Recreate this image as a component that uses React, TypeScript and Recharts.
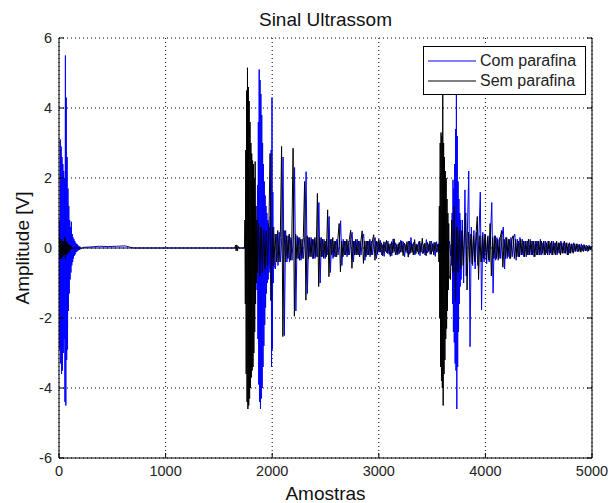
import { LineChart, Line, XAxis, YAxis, CartesianGrid, Legend } from 'recharts';

const FONT = '"Liberation Sans", Arial, Helvetica, sans-serif';

const xTicks = [0, 1000, 2000, 3000, 4000, 5000];
const yTicks = [-6, -4, -2, 0, 2, 4, 6];

// Com parafina (blue), sample step noted per block
const comBurst1 = [
  0, 0.8, -2.9, 3.1, -3.3, 2.9, -3.6, 2.6, -3.5, 2.4, -3.0, 2.2, -2.6, 2.0, -4.4, 5.5, -4.5, 4.3, -3.2, 2.6,
  -2.9, 1.7, -1.8, 1.2, -1.3, 0.8, -0.9, 0.6, -0.7, 0.75, -0.5, 0.4, -0.4, 0.3, -0.3, 0.25, -0.22, 0.2, -0.18, 0.15,
  -0.12, 0.12, -0.1, 0.1, -0.08, 0.07, -0.06, 0.05, -0.05, 0.04, -0.03,
]; // from 0, every 4 samples
const comQuiet: [number, number][] = [
  [230, 0.02], [300, 0.03], [380, 0.05], [460, 0.04], [540, 0.05], [620, 0.06], [660, 0.03], [700, 0], [1846, 0],
];
const comBurst2 = [
  0, 0.6, -1.2, 1.8, -2.6, 3.6, -3.9, 5.1, -4.4, 4.8, -4.6, 4.4, -4.3, 3.8, -4.0, 3.0, -3.4, 2.4, -2.8, 1.9,
  -2.2, 1.5, -1.7, 1.2, -1.3, 1.0, -1.0, 0.8, -0.9, 0.7, -0.7, 0.6, -0.6, 0.9, -1.5, 2.8, -3.4, 4.3, -2.9, 1.6,
  -1.0, 0.6, -0.5,
]; // from 1850, every 4 samples
const comEchoes = [
  -0.6, 0.4, -0.5, 0.45, -0.4, 0.3, 2.6, -2.5, 0.5,
  -0.4, 0.35, -0.4, 0.3, -0.35, 0.4, 2.3, -1.8, 0.35, -0.3,
  0.3, -0.35, 0.25, -0.3, 0.35, 2.18, -1.3, 0.3, -0.25, 0.3,
  -0.3, 0.25, -0.3, 0.3, -0.25, 1.3, -1.0, 0.3, -0.25, 0.25,
  -0.3, 0.25, -0.2, 0.9, -0.7, 0.25, -0.3, 0.2, -0.25, 0.25,
  -0.2, 0.2, 0.78, -0.5, 0.25, -0.2, 0.2, -0.25, 0.2, -0.2,
  0.25, 0.45, -0.4, 0.2, -0.2, 0.25, -0.2, 0.2, -0.2, 0.25,
  0.4, -0.35, 0.2, -0.2, 0.2, -0.25, 0.2, -0.2, 0.2, 0.3,
  -0.3, 0.18, -0.12, 0.22, -0.2, 0.1, -0.24, 0.16, -0.14, 0.2,
  -0.18, 0.12, -0.22, 0.26, -0.1, 0.15, -0.2, 0.12, -0.16, 0.22,
  -0.12, 0.18, -0.25, 0.1, -0.15, 0.2, -0.18, 0.3, -0.12, 0.16,
  -0.2, 0.12, -0.1, 0.18, -0.22, 0.14, -0.16, 0.1, -0.2, 0.24,
  -0.14, 0.12, -0.18, 0.2, -0.1, 0.16, -0.24, 0.18, -0.12, 0.14,
  -0.2, 0.1, -0.16, 0.22, -0.18, 0.12, -0.14, 0.2, -0.22,
]; // from 2030, every 12 samples
const comBurst3 = [
  0.1, -0.5, 1.0, -1.6, 1.95, -2.4, 1.7, -2.7, 2.4, -3.3, 3.4, -3.5, 4.6, -4.6, 3.2, -3.4, 1.9, -2.4, 1.4, -1.6,
  1.0, -1.1, 0.8,
]; // from 3680, every 4 samples
const comTail = [
  -0.9, 0.8, -1.0, 1.66, -0.8, 0.6, 2.2, -2.82, 0.6, -0.5,
  0.5, -0.6, 0.45, -0.5, 0.4, 1.6, -1.77, 0.45, -0.4, 0.4,
  -0.45, 0.35, -0.4, 0.4, 1.3, -1.29, 0.35, -0.35, 0.3, -0.35,
  0.3, -0.3, 0.35, 0.6, -0.6, 0.3, -0.3, 0.25, -0.3, 0.3,
  -0.25, 0.3, 0.4, -0.35, 0.25, -0.25, 0.3, -0.2, 0.25, -0.25,
  0.2, -0.25, 0.2, -0.2, 0.25, -0.2, 0.2, -0.25, 0.2, -0.2,
  0.2, -0.2, 0.25, -0.2, 0.15, -0.2, 0.2, -0.15, 0.2, -0.2,
  0.15, -0.2, 0.2, -0.15, 0.15, -0.2, 0.15, -0.15, 0.2, -0.15,
  0.15, -0.15, 0.15, -0.2, 0.12, -0.15, 0.12, -0.12, 0.15, -0.1,
  0.12, -0.1, 0.1, -0.1, 0.12, -0.08, 0.1, -0.08, 0.08, -0.1, 0.08, -0.06, 0.05,
]; // from 3772, every 12 samples

// Sem parafina (black)
const semQuiet: [number, number][] = [
  [0, 0], [6, 0.3], [12, -0.3], [18, 0.25], [24, -0.3], [30, 0.2], [36, -0.25], [42, 0.2], [48, -0.2], [54, 0.3],
  [60, -0.3], [66, 0.2], [72, -0.2], [78, 0.15], [84, -0.15], [90, 0.1], [96, -0.1], [102, 0.08], [108, -0.06],
  [114, 0.05], [120, -0.03], [130, 0], [1650, 0], [1656, 0.08], [1662, -0.08], [1668, 0.09], [1674, -0.08],
  [1680, 0.05], [1686, 0], [1736, 0],
];
const semBurst2 = [
  0, 0.8, -1.6, 2.8, -3.6, 4.5, -4.4, 5.15, -4.6, 4.6, -4.5, 4.2, -4.3, 3.6, -4.0, 3.0, -3.7, 2.7, -3.5, 2.5,
  -3.4, 2.4, -3.0, 2.0, -2.4, 2.47, -1.6, 1.2, -1.0, 0.8, -0.7,
]; // from 1740, every 4 samples
const semEchoes = [
  0.7, -0.8, 0.6, -0.7, 0.5, -0.6, 0.5, -0.5, 0.4, 2.7,
  -1.5, 0.6, -0.5, 0.4, -0.4, 0.5, -0.4, 0.3, 2.9, -2.53,
  0.5, -0.4, 0.35, -0.3, 0.4, -0.35, 0.3, 2.85, -1.95, 0.4,
  -0.3, 0.3, -0.35, 0.25, -0.3, 0.3, 1.9, -1.49, 0.35, -0.3,
  0.3, -0.25, 0.25, -0.3, 0.3, -0.25, 1.56, -1.1, 0.3, -0.25,
  0.25, -0.3, 0.2, -0.25, 1.09, -0.82, 0.25, -0.2, 0.3, -0.25,
  0.2, -0.25, 0.25, 0.7, -0.68, 0.2, -0.25, 0.2, -0.2, 0.25,
  -0.2, 0.25, 0.51, -0.58, 0.2, -0.2, 0.25, -0.2, 0.2, -0.25,
  0.2, 0.49, -0.44, 0.2, -0.25, 0.2, -0.2, 0.25, -0.2, 0.2,
  0.38, -0.35, 0.2, -0.18, 0.25, -0.12, 0.15, -0.22, 0.18, -0.1,
  0.22, -0.16, 0.12, -0.24, 0.18, -0.14, 0.26, -0.2, 0.1, -0.18,
  0.16, -0.12, 0.2, -0.22, 0.14, -0.1, 0.18, -0.26, 0.2, -0.14,
  0.12, -0.2, 0.24, -0.16, 0.1, -0.18, 0.2, -0.12, 0.28, -0.15,
  0.14, -0.22, 0.16, -0.1, 0.2, -0.18, 0.12, -0.2, 0.16, -0.12, 0.1,
]; // from 1872, every 12 samples
const semBurst3 = [
  0.1, -0.4, 1.2, -2.0, 3.0, -3.4, 3.3, -3.8, 3.2, -4.0, 4.6, -4.5, 3.0, -3.6, 2.6, -3.2, 2.2, -2.6, 2.0, -2.3,
  1.4, -1.8, 1.0, -1.2, 0.7, -0.8,
]; // from 3560, every 4 samples
const semTail = [
  -0.9, 0.8, -0.7, 1.2, -1.5, 0.6, -0.7, 0.5, -0.6, 0.5,
  -0.5, 0.4, 1.0, -1.2, 0.45, -0.4, 0.4, -0.45, 0.35, -0.4,
  0.4, 0.9, -0.9, 0.35, -0.4, 0.35, -0.3, 0.4, -0.35, 0.3,
  -0.35, 0.7, -0.8, 0.3, -0.3, 0.35, -0.3, 0.25, -0.3, 0.3,
  0.5, -0.55, 0.25, -0.3, 0.3, -0.25, 0.25, -0.3, 0.25, 0.35,
  -0.3, 0.25, -0.25, 0.2, -0.25, 0.25, -0.2, 0.2, -0.25, 0.2,
  -0.2, 0.25, -0.2, 0.2, -0.2, 0.2, -0.25, 0.2, -0.2, 0.2,
  -0.2, 0.2, -0.15, 0.2, -0.2, 0.15, -0.2, 0.2, -0.15, 0.2,
  -0.2, 0.15, -0.2, 0.2, -0.15, 0.15, -0.2, 0.15, -0.15, 0.2,
  -0.15, 0.15, -0.2, 0.15, -0.15, 0.12, -0.15, 0.12, -0.1, 0.12,
  -0.1, 0.1, -0.12, 0.08, -0.1, 0.08, -0.08, 0.06, -0.08, 0.06, -0.05,
]; // from 3672, every 12 samples

const block = (start: number, step: number, values: number[]) =>
  values.map((v, i) => ({ x: start + i * step, v }));
const pairs = (list: [number, number][]) => list.map(([x, v]) => ({ x, v }));

const comData = [
  ...block(0, 4, comBurst1),
  ...pairs(comQuiet),
  ...block(1850, 4, comBurst2),
  ...block(2030, 12, comEchoes),
  ...block(3680, 4, comBurst3),
  ...block(3772, 12, comTail),
];

const semData = [
  ...pairs(semQuiet),
  ...block(1740, 4, semBurst2),
  ...block(1872, 12, semEchoes),
  ...block(3560, 4, semBurst3),
  ...block(3672, 12, semTail),
];

const labelStyle = { fontFamily: FONT, fill: '#222' };

function BottomTick({ x, y, payload }: any) {
  return (
    <g>
      <line x1={x} x2={x} y1={y} y2={y - 5} stroke="#000" />
      <text x={x} y={y + 18} textAnchor="middle" fontSize={14.5} {...labelStyle}>
        {payload.value}
      </text>
    </g>
  );
}

function TopTick({ x, y }: any) {
  return <line x1={x} x2={x} y1={y} y2={y + 5} stroke="#000" />;
}

function LeftTick({ x, y, payload }: any) {
  return (
    <g>
      <line x1={x} x2={x + 5} y1={y} y2={y} stroke="#000" />
      <text x={x - 7} y={y + 5} textAnchor="end" fontSize={14.5} {...labelStyle}>
        {payload.value}
      </text>
    </g>
  );
}

function RightTick({ x, y }: any) {
  return <line x1={x} x2={x - 5} y1={y} y2={y} stroke="#000" />;
}

function LegendBox() {
  const rows = [
    { name: 'Com parafina', color: '#0000ff' },
    { name: 'Sem parafina', color: '#000000' },
  ];
  return (
    <div
      style={{
        width: 163,
        height: 49,
        boxSizing: 'border-box',
        border: '1px solid #000',
        background: '#fff',
        paddingTop: 4,
        fontFamily: FONT,
        fontSize: 16,
        color: '#222',
      }}
    >
      {rows.map((r) => (
        <div key={r.name} style={{ display: 'flex', alignItems: 'center', height: 20 }}>
          <svg width={56} height={20}>
            <line x1={4} x2={52} y1={10} y2={10} stroke={r.color} strokeWidth={1} />
          </svg>
          <span style={{ lineHeight: '20px' }}>{r.name}</span>
        </div>
      ))}
    </div>
  );
}

export default function App() {
  return (
    <div style={{ position: 'absolute', left: 0, top: 0, width: 610, height: 503, background: '#fff' }}>
      <div
        style={{
          position: 'absolute',
          left: 59,
          top: 10,
          width: 533,
          textAlign: 'center',
          fontFamily: FONT,
          fontSize: 19,
          lineHeight: '19px',
          color: '#111',
          zIndex: 2,
        }}
      >
        Sinal Ultrassom
      </div>
      <LineChart width={610} height={503} margin={{ top: 38, right: 0, bottom: 0, left: 0 }}>
        <CartesianGrid stroke="#000" strokeDasharray="1 3" />
        <XAxis
          dataKey="x"
          type="number"
          domain={[0, 5000]}
          ticks={xTicks}
          interval={0}
          allowDataOverflow
          height={45}
          tickSize={0}
          tickMargin={0}
          tickLine={false}
          tick={<BottomTick />}
          axisLine={{ stroke: '#000' }}
          label={{ value: 'Amostras', position: 'insideBottom', offset: 3, fontSize: 19, fill: '#111', fontFamily: FONT }}
        />
        <XAxis
          xAxisId="top"
          orientation="top"
          type="number"
          domain={[0, 5000]}
          ticks={xTicks}
          interval={0}
          allowDataOverflow
          height={0}
          tickSize={0}
          tickMargin={0}
          tickLine={false}
          tick={<TopTick />}
          axisLine={{ stroke: '#000' }}
        />
        <YAxis
          type="number"
          domain={[-6, 6]}
          ticks={yTicks}
          interval={0}
          allowDataOverflow
          width={59}
          tickSize={0}
          tickMargin={0}
          tickLine={false}
          tick={<LeftTick />}
          axisLine={{ stroke: '#000' }}
          label={{
            value: 'Amplitude [V]',
            angle: -90,
            position: 'insideLeft',
            offset: 22,
            fontSize: 19,
            fill: '#111',
            fontFamily: FONT,
            style: { textAnchor: 'middle' },
          }}
        />
        <YAxis
          yAxisId="right"
          orientation="right"
          type="number"
          domain={[-6, 6]}
          ticks={yTicks}
          interval={0}
          allowDataOverflow
          width={18}
          tickSize={0}
          tickMargin={0}
          tickLine={false}
          tick={<RightTick />}
          axisLine={{ stroke: '#000' }}
        />
        <Legend
          layout="vertical"
          align="center"
          verticalAlign="middle"
          wrapperStyle={{ left: 423, top: 46, width: 163, height: 49 }}
          content={() => <LegendBox />}
        />
        <Line
          data={comData}
          dataKey="v"
          name="Com parafina"
          type="linear"
          stroke="#0000ff"
          strokeWidth={1}
          dot={false}
          isAnimationActive={false}
        />
        <Line
          data={semData}
          dataKey="v"
          name="Sem parafina"
          type="linear"
          stroke="#000000"
          strokeWidth={1}
          dot={false}
          isAnimationActive={false}
        />
      </LineChart>
    </div>
  );
}
